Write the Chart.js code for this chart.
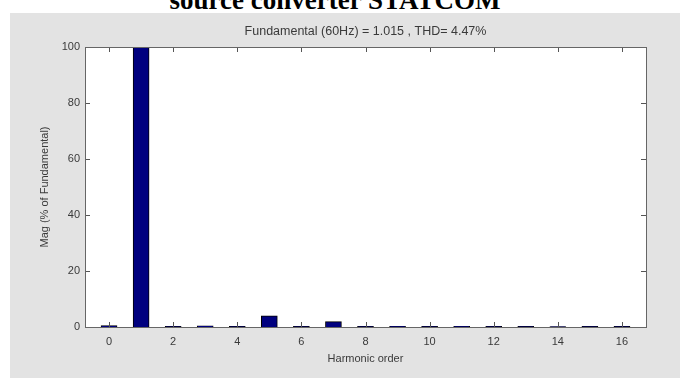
<!DOCTYPE html>
<html lang="en">
<head>
    <meta charset="UTF-8">
    <title>Harmonic spectrum</title>
    <script src="https://cdn.jsdelivr.net/npm/chart.js"></script>
    <style>
        html, body { margin: 0; padding: 0; background: #fff; overflow: hidden; }
        body { width: 680px; height: 378px; position: relative; }
        .legenda-topo {
            position: absolute; left: 0; top: -13px; width: 670px;
            text-align: center; font: bold 27px "Liberation Serif", "Times New Roman", serif;
            line-height: 27px; color: #000; white-space: nowrap;
        }
        .painel {
            position: absolute; left: 10px; top: 13px; width: 670px; height: 365px;
            background: #e3e3e3;
        }
    </style>
</head>
<body>
    <div class="legenda-topo">source converter STATCOM</div>
    <div class="painel">
        <canvas id="graficoHarmonicos" width="670" height="365"></canvas>
    </div>

    <script>
        // ordem harmonica e magnitude (% da fundamental)
        const ordens = [0, 1, 2, 3, 4, 5, 6, 7, 8, 9, 10, 11, 12, 13, 14, 15, 16];
        const magnitudes = [0.5, 100, 0.2, 0.4, 0.2, 4.0, 0.2, 1.9, 0.2, 0.25, 0.2, 0.25, 0.2, 0.2, 0.15, 0.2, 0.2];
        const ticksX = [0, 2, 4, 6, 8, 10, 12, 14, 16];
        const ticksY = [0, 20, 40, 60, 80, 100];
        const titulo = 'Fundamental (60Hz) = 1.015 , THD= 4.47%';

        const corTexto = '#3a3a3a';

        // fundo branco, caixa e ticks para dentro (estilo matlab)
        const caixaPlugin = {
            id: 'caixa',
            beforeDraw(chart) {
                const a = chart.chartArea, ctx = chart.ctx;
                ctx.save();
                ctx.fillStyle = '#fff';
                ctx.fillRect(a.left, a.top, a.right - a.left, a.bottom - a.top);
                ctx.restore();
            },
            afterDraw(chart) {
                const a = chart.chartArea, ctx = chart.ctx;
                const sx = chart.scales.x, sy = chart.scales.y;
                const t = 5;
                ctx.save();
                ctx.strokeStyle = '#555';
                ctx.lineWidth = 1;
                ctx.beginPath();
                ticksX.forEach(function (v) {
                    const px = Math.round(sx.getPixelForValue(v)) + 0.5;
                    ctx.moveTo(px, a.bottom); ctx.lineTo(px, a.bottom - t);
                    ctx.moveTo(px, a.top); ctx.lineTo(px, a.top + t);
                });
                ticksY.forEach(function (v) {
                    const py = Math.round(sy.getPixelForValue(v)) + 0.5;
                    ctx.moveTo(a.left, py); ctx.lineTo(a.left + t, py);
                    ctx.moveTo(a.right, py); ctx.lineTo(a.right - t, py);
                });
                ctx.stroke();
                ctx.strokeStyle = '#666';
                ctx.strokeRect(Math.round(a.left) + 0.5, Math.round(a.top) + 0.5,
                    Math.round(a.right - a.left), Math.round(a.bottom - a.top));
                // titulo
                ctx.fillStyle = corTexto;
                ctx.font = '12.5px "Liberation Sans", Arial, sans-serif';
                ctx.textAlign = 'center';
                ctx.textBaseline = 'middle';
                ctx.fillText(titulo, (a.left + a.right) / 2, 19);
                ctx.restore();
            }
        };

        const ctx = document.getElementById('graficoHarmonicos').getContext('2d');

        new Chart(ctx, {
            type: 'bar',
            data: {
                datasets: [{
                    label: 'Mag',
                    data: ordens.map(function (o, i) { return { x: o, y: magnitudes[i] }; }),
                    backgroundColor: '#00007f',
                    borderColor: '#000',
                    borderWidth: 1,
                    barThickness: 16
                }]
            },
            options: {
                responsive: false,
                animation: false,
                layout: { padding: { left: 0, right: 34, top: 34, bottom: 0 } },
                plugins: {
                    legend: { display: false },
                    tooltip: { enabled: false }
                },
                scales: {
                    x: {
                        type: 'linear',
                        offset: false,
                        min: -0.75,
                        max: 16.75,
                        grid: { display: false, drawTicks: false, offset: false },
                        border: { display: false },
                        afterBuildTicks: function (s) { s.ticks = ticksX.map(function (v) { return { value: v }; }); },
                        afterFit: function (s) { s.height = 51; },
                        ticks: {
                            color: corTexto, padding: 8, maxRotation: 0,
                            font: { family: '"Liberation Sans", Arial, sans-serif', size: 11 }
                        },
                        title: {
                            display: true, text: 'Harmonic order', color: corTexto,
                            padding: { top: 2, bottom: 12 },
                            font: { family: '"Liberation Sans", Arial, sans-serif', size: 11 }
                        }
                    },
                    y: {
                        min: 0,
                        max: 100,
                        grid: { display: false, drawTicks: false },
                        border: { display: false },
                        afterBuildTicks: function (s) { s.ticks = ticksY.map(function (v) { return { value: v }; }); },
                        afterFit: function (s) { s.width = 75; },
                        ticks: {
                            color: corTexto, padding: 5,
                            font: { family: '"Liberation Sans", Arial, sans-serif', size: 11 }
                        },
                        title: {
                            display: true, text: 'Mag (% of Fundamental)', color: corTexto,
                            padding: { top: 28, bottom: 0 },
                            font: { family: '"Liberation Sans", Arial, sans-serif', size: 11 }
                        }
                    }
                }
            },
            plugins: [caixaPlugin]
        });
    </script>
</body>
</html>
